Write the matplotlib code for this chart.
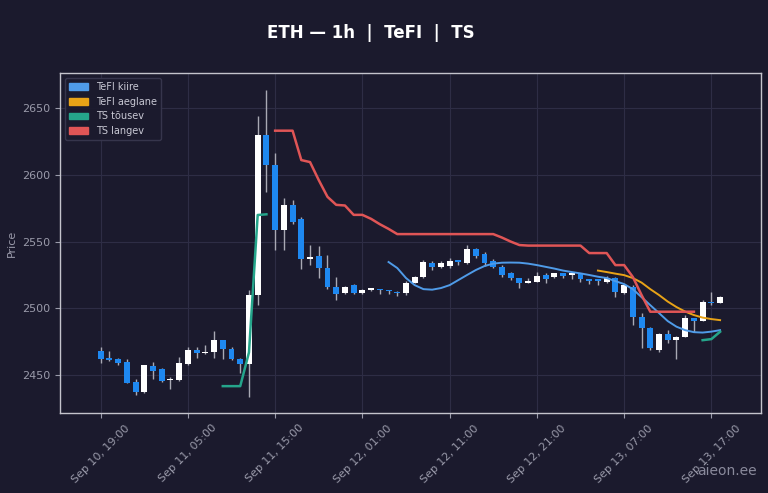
import numpy as np
import pandas as pd
import matplotlib
matplotlib.use("Agg")
import matplotlib.pyplot as plt
import matplotlib.dates as mdates
from matplotlib.patches import Patch

# ---- data ----
start = pd.Timestamp("2024-09-10 19:00")
times = pd.date_range(start, periods=72, freq="h")

opens = [2468.2, 2463.0, 2461.8, 2459.8, 2444.8, 2437.5, 2456.8, 2454.3, 2446.3, 2446.3,
         2458.2, 2468.7, 2466.8, 2467.7, 2476.2, 2469.3, 2461.8, 2458.3, 2510.0, 2629.8,
         2607.3, 2558.6, 2577.3, 2566.9, 2536.9, 2539.4, 2530.4, 2516.2, 2511.2, 2517.4,
         2511.2, 2514.0, 2514.0, 2513.7, 2512.5, 2511.2, 2519.2, 2523.6, 2533.7, 2531.1,
         2531.7, 2536.2, 2534.1, 2544.2, 2540.6, 2535.6, 2531.1, 2526.2, 2522.4, 2519.2,
         2519.9, 2524.9, 2523.2, 2526.2, 2524.7, 2526.2, 2521.7, 2521.7, 2520.0, 2522.4,
         2511.7, 2516.2, 2493.7, 2485.0, 2468.7, 2481.2, 2476.7, 2478.7, 2492.5, 2490.8,
         2505.0, 2504.2]
highs = [2471.2, 2468.2, 2463.0, 2461.8, 2446.8, 2458.0, 2459.8, 2455.3, 2448.3, 2463.5,
         2471.0, 2471.2, 2472.5, 2483.2, 2476.7, 2471.0, 2462.8, 2514.0, 2644.2, 2663.5,
         2616.1, 2582.8, 2581.1, 2568.6, 2547.4, 2546.9, 2539.9, 2523.4, 2517.0, 2518.2,
         2514.5, 2515.0, 2514.2, 2514.0, 2513.2, 2520.5, 2524.5, 2536.5, 2535.6, 2535.6,
         2538.0, 2536.5, 2547.4, 2545.5, 2542.5, 2536.6, 2532.4, 2527.4, 2523.0, 2522.4,
         2527.4, 2526.2, 2526.8, 2526.5, 2526.8, 2526.5, 2522.0, 2522.0, 2524.0, 2523.4,
         2518.6, 2517.4, 2496.8, 2486.1, 2481.5, 2483.7, 2479.2, 2495.0, 2493.0, 2506.2,
         2512.4, 2509.3]
lows = [2459.2, 2460.8, 2457.5, 2443.9, 2435.0, 2437.0, 2446.8, 2444.8, 2440.0, 2446.0,
        2457.5, 2463.0, 2465.5, 2463.0, 2461.8, 2461.3, 2451.7, 2433.5, 2502.5, 2587.3,
        2543.6, 2543.6, 2563.1, 2529.4, 2532.4, 2522.9, 2514.4, 2506.2, 2510.5, 2510.5,
        2510.5, 2513.2, 2511.0, 2511.0, 2509.0, 2509.9, 2519.0, 2522.9, 2528.7, 2530.0,
        2530.0, 2532.4, 2533.0, 2538.0, 2531.7, 2530.4, 2523.6, 2521.0, 2515.0, 2519.0,
        2519.6, 2519.2, 2522.5, 2522.9, 2521.7, 2520.0, 2518.0, 2517.5, 2519.2, 2508.7,
        2511.0, 2487.5, 2470.0, 2468.7, 2467.5, 2474.4, 2462.0, 2478.7, 2482.4, 2490.8,
        2502.4, 2503.8]
closes = [2461.8, 2461.3, 2459.2, 2444.3, 2437.5, 2457.3, 2453.2, 2445.8, 2447.2, 2459.2,
          2468.7, 2466.3, 2467.7, 2476.7, 2469.3, 2461.8, 2458.3, 2510.0, 2629.8, 2607.3,
          2558.6, 2577.3, 2564.8, 2536.9, 2538.6, 2530.4, 2516.2, 2510.7, 2516.2, 2511.2,
          2513.7, 2514.3, 2513.4, 2513.0, 2511.2, 2519.2, 2523.6, 2534.9, 2530.7, 2533.7,
          2535.6, 2534.9, 2544.2, 2539.1, 2533.7, 2531.1, 2524.9, 2522.4, 2519.2, 2520.6,
          2524.2, 2521.7, 2526.2, 2524.2, 2526.2, 2521.7, 2520.7, 2520.2, 2522.4, 2512.4,
          2517.4, 2493.7, 2485.0, 2470.0, 2481.2, 2476.2, 2478.7, 2492.5, 2490.8, 2505.0,
          2503.8, 2508.7]

nan = np.nan
# TeFI kiire (fast), from candle 33
tefi_fast = [nan] * 33 + [
    2534.7, 2530.2, 2522.7, 2517.4, 2514.4, 2514.0, 2515.2, 2517.4, 2521.2, 2525.0,
    2528.7, 2531.7, 2533.5, 2534.2, 2534.3, 2534.2, 2533.5, 2532.4, 2531.1, 2529.8,
    2528.3, 2527.2, 2526.2, 2525.0, 2523.7, 2522.7, 2520.4, 2518.2, 2514.4, 2508.4,
    2502.4, 2496.5, 2490.5, 2486.3, 2483.7, 2482.2, 2481.9, 2482.6, 2483.7]
# TeFI aeglane (slow), from candle 57
tefi_slow = [nan] * 57 + [
    2528.3, 2527.2, 2526.0, 2524.9, 2522.7, 2519.3, 2514.4, 2510.0, 2505.1, 2501.0,
    2497.6, 2495.0, 2493.1, 2492.0, 2491.2]
# TS tõusev (up trend)
ts_up = ([nan] * 14 + [2441.8, 2441.8, 2441.8, 2467.0, 2569.9, 2570.4]
         + [nan] * 49 + [2476.2, 2477.0, 2482.5])
# TS langev (down trend)
ts_down = ([nan] * 20 + [
    2633.0, 2633.0, 2633.0, 2611.0, 2609.5, 2596.0, 2583.5, 2577.5, 2577.0, 2570.0,
    2570.0, 2567.0, 2563.0, 2559.5, 2555.6, 2555.6, 2555.6, 2555.6, 2555.6, 2555.6,
    2555.6, 2555.6, 2555.6, 2555.6, 2555.6, 2555.6, 2553.0, 2550.0, 2547.4, 2547.0,
    2547.0, 2547.0, 2547.0, 2547.0, 2547.0, 2547.0, 2541.4, 2541.4, 2541.4, 2532.4,
    2532.4, 2523.5, 2510.0, 2497.5, 2497.5, 2497.5, 2497.5, 2497.5, 2497.5]
    + [nan] * 3)

# ---- style ----
BG = "#1b1a2d"
UP = "#ffffff"
DOWN = "#1e88f0"
WICK = "#a9a9b4"
TXT = "#9a9aaa"
C_FAST = "#4f9be8"
C_SLOW = "#e8a317"
C_UP = "#25a58b"
C_DOWN = "#e05556"

fig = plt.figure(figsize=(7.68, 4.93), dpi=100, facecolor=BG)
ax = fig.add_axes([0.078, 0.162, 0.913, 0.690], facecolor=BG)

x = mdates.date2num(times)
o = np.array(opens); h = np.array(highs); l = np.array(lows); c = np.array(closes)
up = c >= o
w = 0.68 / 24

ax.vlines(x, l, h, color=WICK, linewidth=1.0, zorder=2)
body_lo = np.minimum(o, c)
body_h = np.maximum(np.abs(c - o), 0.9)
ax.bar(x[up], body_h[up], bottom=body_lo[up], width=w, color=UP, zorder=3, linewidth=0)
ax.bar(x[~up], body_h[~up], bottom=body_lo[~up], width=w, color=DOWN, zorder=3, linewidth=0)

ax.plot(x, tefi_fast, color=C_FAST, linewidth=1.4, zorder=4)
ax.plot(x, tefi_slow, color=C_SLOW, linewidth=1.4, zorder=4)
ax.plot(x, ts_up, color=C_UP, linewidth=1.8, zorder=4)
ax.plot(x, ts_down, color=C_DOWN, linewidth=1.8, zorder=4)

# axes
hour = 1 / 24
ax.set_xlim(x[0] - 4.67 * hour, x[0] + 75.7 * hour)
ax.set_ylim(2421.6, 2676.2)
ax.set_yticks([2450, 2500, 2550, 2600, 2650])
ax.set_xticks(x[0] + np.arange(0, 80, 10) * hour)
ax.xaxis.set_major_formatter(mdates.DateFormatter("%b %d, %H:%M"))
plt.setp(ax.get_xticklabels(), rotation=45)
ax.tick_params(colors=TXT, labelsize=8, length=3.5)
ax.grid(True, color="#2e2d45", linewidth=0.8)
ax.set_axisbelow(True)
for s in ax.spines.values():
    s.set_color("#c4c4cc")
    s.set_linewidth(1.0)
ax.set_ylabel("Price", color=TXT, fontsize=8)

handles = [Patch(color=C_FAST, label="TeFI kiire"),
           Patch(color=C_SLOW, label="TeFI aeglane"),
           Patch(color=C_UP, label="TS tõusev"),
           Patch(color=C_DOWN, label="TS langev")]
leg = ax.legend(handles=handles, loc="upper left", fontsize=7, facecolor=BG,
                edgecolor="#3a3950", framealpha=0.9, labelcolor="#c8c8d4",
                handlelength=2.0, handleheight=0.7)

fig.text(0.483, 0.933, "ETH — 1h  |  TeFI  |  TS", color="white", fontsize=12,
         fontweight="bold", ha="center", va="center")
fig.text(0.986, 0.03, "aieon.ee", color="#8a8a9c", fontsize=10, ha="right", va="bottom")

fig.savefig("out.png", dpi=100, facecolor=BG)
